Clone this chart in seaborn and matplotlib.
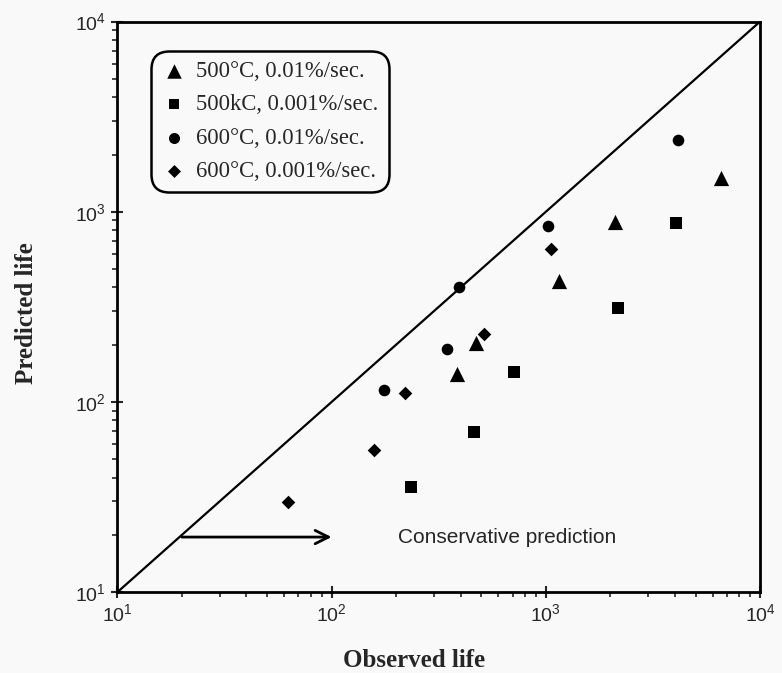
import numpy as np
import pandas as pd
import matplotlib
matplotlib.use("Agg")
import matplotlib.pyplot as plt
import seaborn as sns

# ---- data ----
series_labels = ["500°C, 0.01%/sec.", "500kC, 0.001%/sec.", "600°C, 0.01%/sec.", "600°C, 0.001%/sec."]
series_markers = ["^", "s", "o", "D"]
series_sizes = [120, 65, 70, 48]

obs_500_fast = [6580, 2107, 1158, 473, 384]
pred_500_fast = [1502, 888, 430, 205, 140]

obs_500_slow = [4045, 2182, 714, 463, 234]
pred_500_slow = [878, 313, 144, 69.9, 35.9]

obs_600_fast = [4131, 1022, 394, 347, 176]
pred_600_fast = [2388, 843, 403, 190, 115]

obs_600_slow = [1059, 515, 220, 158, 62.5]
pred_600_slow = [638, 227, 112, 56, 29.9]

diag = [10, 10000]
arrow_from = (20, 19.5)
arrow_to = (100, 19.5)
note_text = "Conservative prediction"
note_pos = (205, 19.5)

frames = []
for lab, xs, ys in zip(series_labels,
                       [obs_500_fast, obs_500_slow, obs_600_fast, obs_600_slow],
                       [pred_500_fast, pred_500_slow, pred_600_fast, pred_600_slow]):
    frames.append(pd.DataFrame({"Observed": xs, "Predicted": ys, "series": lab}))
df = pd.concat(frames, ignore_index=True)

sns.set_style("white")
plt.rcParams["font.family"] = ["Liberation Serif", "DejaVu Serif"]
plt.rcParams["mathtext.fontset"] = "custom"
plt.rcParams["mathtext.rm"] = "Liberation Sans"
plt.rcParams["mathtext.it"] = "Liberation Sans"
plt.rcParams["mathtext.default"] = "regular"

fig = plt.figure(figsize=(7.82, 6.73), dpi=100, facecolor="#f9f9f9")
ax = fig.add_axes([0.150, 0.120, 0.822, 0.848])
ax.set_facecolor("#f9f9f9")

ax.plot(diag, diag, color="black", lw=1.6, zorder=2)

for lab, mk, sz in zip(series_labels, series_markers, series_sizes):
    sub = df[df["series"] == lab]
    sns.scatterplot(data=sub, x="Observed", y="Predicted", marker=mk, s=sz,
                    color="black", edgecolor="black", linewidth=0, ax=ax,
                    label=lab, zorder=3)

ax.set_xscale("log")
ax.set_yscale("log")
ax.set_xlim(10, 10000)
ax.set_ylim(10, 10000)

ax.annotate("", xy=arrow_to, xytext=arrow_from,
            arrowprops=dict(arrowstyle="->", lw=2.0, color="black",
                            mutation_scale=24, shrinkA=0, shrinkB=0))
ax.text(note_pos[0], note_pos[1], note_text, fontsize=15,
        family=["Liberation Sans", "DejaVu Sans"], va="center", ha="left")

for s in ["top", "right", "left", "bottom"]:
    ax.spines[s].set_linewidth(2.0)
    ax.spines[s].set_color("black")

ax.tick_params(which="major", direction="inout", length=8, width=1.5,
               labelsize=14, bottom=True, left=True, top=False, right=False, pad=4)
ax.tick_params(which="minor", direction="out", length=3.5, width=1.2,
               bottom=True, left=True, top=False, right=False)
ax.set_xticks([10, 100, 1000, 10000])
ax.set_yticks([10, 100, 1000, 10000])
for lbl in ax.get_xticklabels() + ax.get_yticklabels():
    lbl.set_fontfamily(["Liberation Sans", "DejaVu Sans"])

ax.set_xlabel("Observed life", fontsize=18, fontweight="bold")
ax.set_ylabel("Predicted life", fontsize=18, fontweight="bold")
ax.xaxis.set_label_coords(0.4617, -0.099)
ax.yaxis.set_label_coords(-0.124, 0.4895)

leg = ax.legend(loc="upper left", bbox_to_anchor=(0.035, 0.969), fontsize=16.3,
                frameon=True, fancybox=True, edgecolor="black", facecolor="#f9f9f9",
                framealpha=1, labelspacing=0.55, handletextpad=0.45,
                handlelength=1.1, borderpad=0.45, markerscale=0.95)
leg.get_frame().set_linewidth(1.8)
leg.get_frame().set_boxstyle("round", pad=0.0, rounding_size=0.8)

fig.savefig("out.png", dpi=100, facecolor=fig.get_facecolor())
